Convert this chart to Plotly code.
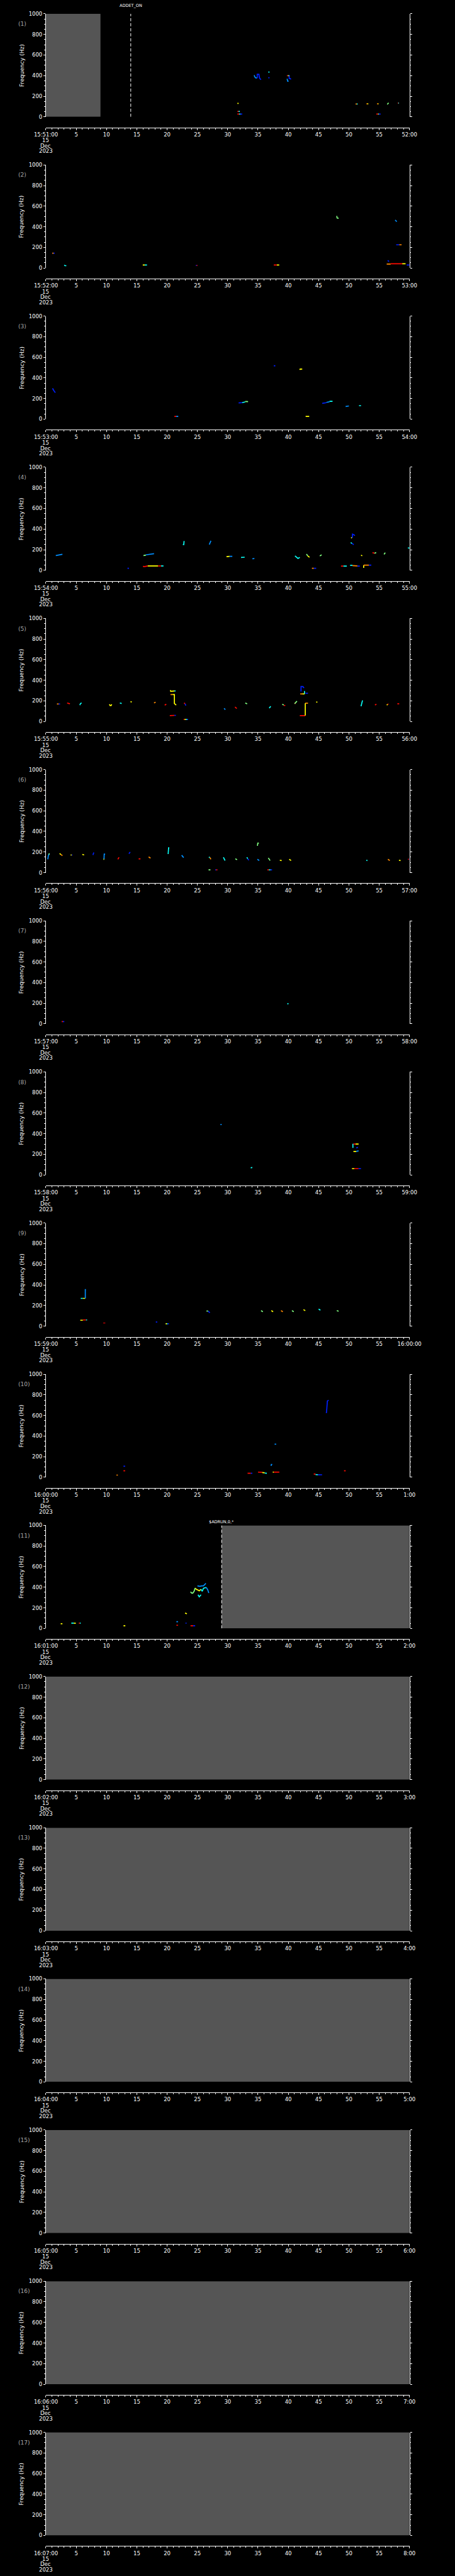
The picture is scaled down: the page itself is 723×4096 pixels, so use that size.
import plotly.graph_objects as go
from plotly.colors import sample_colorscale

# ---------------- data ----------------
N_PANELS = 17
START_LABELS = ["15:51:00", "15:52:00", "15:53:00", "15:54:00", "15:55:00", "15:56:00",
                "15:57:00", "15:58:00", "15:59:00", "16:00:00", "16:01:00", "16:02:00",
                "16:03:00", "16:04:00", "16:05:00", "16:06:00", "16:07:00"]
END_LABELS = ["52:00", "53:00", "54:00", "55:00", "56:00", "57:00", "58:00", "59:00",
              "16:00:00", "1:00", "2:00", "3:00", "4:00", "5:00", "6:00", "7:00", "8:00"]
MID_TICKS = [5, 10, 15, 20, 25, 30, 35, 40, 45, 50, 55]
DATE_LINES = ["15", "Dec", "2023"]
FREQ_TICKS = [0, 200, 400, 600, 800, 1000]

# gray (no data) spans, seconds within the panel minute
GRAY_SPANS = {1: (0, 9), 11: (29, 60), 12: (0, 60), 13: (0, 60), 14: (0, 60),
              15: (0, 60), 16: (0, 60), 17: (0, 60)}
# event markers: panel, second, label
EVENTS = [(1, 14.0, "ADDET_ON"), (11, 29.0, "$ADRUN,0,*")]

# intensity levels (jet colour index) per code
LEVEL = {"B": 0.14, "A": 0.25, "C": 0.37, "G": 0.5, "Y": 0.63, "O": 0.74, "R": 0.86, "D": 0.97}

# spectrogram traces: (seconds, frequencies Hz, intensity code)
P01 = [
    ([31.6, 31.8], [130, 130], "Y"), ([31.6, 31.8], [53, 53], "R"), ([31.8, 32.0], [53, 53], "C"),
    ([31.6, 31.9], [27, 27], "R"), ([31.9, 32.1], [27, 27], "C"), ([32.1, 32.4], [27, 27], "B"),
    ([34.37, 34.45, 34.6, 34.8], [404, 390, 379, 376], "A"),
    ([34.8, 34.87, 34.87, 35.15, 35.2, 35.3, 35.5], [379, 379, 413, 413, 389, 371, 361], "B"),
    ([36.7, 36.9], [434, 434], "C"), ([36.7, 36.9], [379, 379], "B"),
    ([39.77, 39.95], [399, 399], "R"), ([39.95, 40.15], [399, 399], "G"),
    ([39.8, 39.85, 39.9, 40.05], [369, 355, 346, 346], "A"),
    ([40.1, 40.15, 40.15, 40.3, 40.45], [399, 399, 372, 372, 364], "B"),
    ([51.1, 51.3], [124, 124], "O"), ([51.3, 51.45], [124, 124], "C"),
    ([52.9, 53.05], [126, 126], "O"), ([53.05, 53.2], [126, 126], "Y"),
    ([54.64, 54.8], [126, 126], "O"), ([54.8, 54.9], [126, 126], "Y"),
    ([54.53, 54.8], [27, 27], "R"), ([54.8, 54.95], [27, 27], "G"), ([54.95, 55.23], [27, 27], "B"),
    ([56.33, 56.45, 56.56], [121, 130, 136], "G"),
    ([58.05, 58.15], [134, 134], "R"), ([58.15, 58.25], [134, 134], "C"),
]
P02 = [
    ([1.05, 1.25], [144, 144], "O"), ([1.25, 1.44], [144, 144], "B"),
    ([3.03, 3.15, 3.37], [29, 22, 22], "C"),
    ([15.98, 16.3], [29, 29], "Y"), ([16.3, 16.68], [29, 29], "C"),
    ([24.75, 24.88], [24, 24], "B"), ([24.88, 25.0], [24, 24], "R"),
    ([37.6, 38.1], [29, 29], "R"), ([38.1, 38.5], [29, 29], "Y"),
    ([48.0, 48.05, 48.3], [505, 485, 482], "G"),
    ([57.64, 57.75, 57.9], [466, 458, 449], "A"),
    ([57.8, 58.3], [225, 225], "B"), ([58.3, 58.7], [225, 225], "O"),
    ([56.4, 56.63], [72, 64], "B"),
    ([56.24, 56.9], [38, 38], "O"), ([56.9, 58.8], [41, 41], "R"), ([58.8, 59.35], [41, 41], "Y"),
    ([59.54, 60.0], [29, 29], "B"),
]
P03 = [
    ([1.09, 1.15, 1.3, 1.55], [299, 290, 278, 257], "B"),
    ([21.2, 21.5], [27, 27], "R"), ([21.5, 21.84], [27, 27], "A"),
    ([31.8, 32.4], [158, 160], "B"), ([32.4, 32.9], [160, 168], "C"), ([32.9, 33.36], [172, 170], "G"),
    ([37.6, 37.86], [518, 518], "B"),
    ([41.9, 41.95, 42.3], [478, 486, 486], "Y"),
    ([42.86, 43.45], [27, 27], "Y"),
    ([45.6, 46.3], [153, 160], "B"), ([46.3, 46.8], [163, 168], "A"), ([46.8, 47.3], [173, 173], "C"),
    ([49.46, 50.0], [123, 128], "A"),
    ([51.67, 52.0], [131, 131], "C"),
]
P04 = [
    ([1.63, 2.0, 2.72], [143, 148, 155], "A"),
    ([13.46, 13.7], [20, 20], "B"),
    ([16.1, 16.5], [143, 148], "G"), ([16.5, 17.84], [150, 162], "A"),
    ([16.0, 16.3, 16.8], [38, 36, 42], "R"), ([16.8, 18.5], [43, 43], "Y"),
    ([18.5, 19.0], [43, 43], "R"), ([19.0, 19.4], [43, 43], "C"),
    ([22.6, 22.75, 22.8], [250, 250, 284], "C"),
    ([26.96, 27.1, 27.23], [250, 265, 287], "A"),
    ([29.8, 30.3], [133, 136], "Y"), ([30.3, 30.76], [136, 136], "A"),
    ([32.2, 32.8], [125, 127], "C"),
    ([34.06, 34.4], [112, 114], "A"),
    ([41.1, 41.4, 41.6, 41.9], [140, 128, 115, 125], "C"),
    ([43.0, 43.2], [158, 140], "G"), ([43.2, 43.5], [140, 126], "Y"),
    ([43.9, 44.2], [20, 20], "O"), ([44.2, 44.6], [20, 20], "B"),
    ([45.2, 45.5], [140, 150], "G"),
    ([48.7, 49.1], [41, 41], "R"), ([49.1, 49.65], [41, 41], "C"),
    ([50.2, 50.6], [48, 48], "C"), ([50.6, 51.4], [45, 43], "O"), ([51.4, 51.8], [41, 41], "B"),
    ([50.35, 50.5], [315, 315], "Y"),
    ([50.55, 50.6, 50.8, 51.0], [315, 351, 345, 337], "B"),
    ([50.3, 50.5], [269, 262], "C"), ([50.5, 50.8], [262, 248], "B"),
    ([52.44, 52.44], [24, 50], "Y"), ([52.44, 53.3], [50, 50], "O"), ([53.3, 53.7], [50, 50], "B"),
    ([52.0, 52.2], [148, 140], "Y"),
    ([53.9, 54.2], [172, 165], "R"), ([54.2, 54.5], [165, 172], "G"),
    ([55.8, 56.0], [155, 172], "G"),
    ([59.74, 60.0], [218, 215], "C"),
]
P05 = [
    ([1.82, 2.1], [170, 170], "O"), ([2.1, 2.33], [170, 170], "B"),
    ([3.5, 3.96], [180, 171], "R"),
    ([5.6, 5.7, 5.9], [158, 175, 180], "C"),
    ([10.47, 10.6, 10.75, 10.86], [167, 154, 154, 167], "Y"),
    ([12.2, 12.5], [180, 174], "C"),
    ([13.96, 14.16], [193, 188], "Y"),
    ([17.84, 18.1], [180, 188], "O"),
    ([19.6, 19.86], [158, 168], "R"),
    ([20.48, 20.55, 20.6, 20.9, 21.0, 21.2], [300, 300, 292, 292, 296, 296], "Y"),
    ([21.2, 21.4], [296, 296], "C"),
    ([20.56, 20.9], [261, 261], "O"),
    ([20.9, 21.2, 21.2, 21.5], [261, 261, 174, 159], "Y"),
    ([22.8, 22.95], [180, 172], "R"), ([22.95, 23.1], [172, 154], "B"),
    ([20.44, 21.2], [57, 59], "R"), ([21.2, 21.45], [59, 59], "B"),
    ([22.73, 22.9], [20, 20], "R"), ([22.9, 23.1], [20, 20], "Y"),
    ([23.1, 23.3], [20, 20], "C"), ([23.3, 23.47], [20, 20], "B"),
    ([29.4, 29.6], [128, 115], "A"),
    ([31.2, 31.5], [141, 126], "R"),
    ([32.9, 33.2], [180, 170], "G"),
    ([36.85, 37.1], [129, 147], "C"),
    ([39.0, 39.25], [167, 160], "G"), ([39.25, 39.5], [157, 154], "R"),
    ([41.04, 41.2, 41.43], [172, 180, 197], "G"), ([41.04, 41.2], [180, 172], "R"),
    ([42.0, 42.1, 42.1, 42.4, 42.6], [296, 296, 339, 339, 325], "B"),
    ([41.97, 42.3], [267, 267], "O"), ([42.3, 42.67], [267, 267], "Y"),
    ([42.67, 42.67], [267, 296], "C"),
    ([42.86, 43.25], [274, 274], "B"),
    ([42.8, 42.8], [57, 177], "Y"), ([42.8, 43.25], [177, 177], "O"),
    ([41.9, 42.8], [57, 57], "R"),
    ([44.6, 44.8], [188, 188], "Y"),
    ([52.0, 52.1, 52.25], [148, 175, 205], "C"),
    ([54.3, 54.54], [160, 168], "R"),
    ([56.24, 56.4], [160, 165], "Y"), ([56.4, 56.52], [165, 171], "R"),
    ([58.0, 58.3], [171, 171], "R"),
]
P06 = [
    ([0.31, 0.4, 0.58], [129, 165, 186], "A"), ([0.45, 0.58], [175, 186], "G"),
    ([2.25, 2.5], [186, 175], "Y"), ([2.5, 2.72], [175, 164], "O"),
    ([4.07, 4.25], [171, 171], "Y"), ([4.25, 4.38], [171, 171], "B"),
    ([6.0, 6.3], [177, 171], "Y"),
    ([7.76, 7.9], [171, 196], "B"),
    ([9.58, 9.62, 9.77], [129, 180, 180], "A"), ([9.5, 9.62], [129, 129], "Y"),
    ([11.87, 12.06], [129, 149], "R"),
    ([13.7, 13.9], [184, 200], "B"),
    ([15.3, 15.6], [134, 134], "R"),
    ([16.95, 17.26], [153, 141], "O"),
    ([20.17, 20.25, 20.36], [180, 241, 241], "C"),
    ([22.4, 22.73], [169, 146], "A"),
    ([26.88, 27.05], [151, 147], "C"), ([27.05, 27.23], [147, 129], "O"),
    ([26.84, 27.15], [27, 27], "G"),
    ([27.93, 28.1], [27, 27], "B"), ([28.1, 28.3], [27, 27], "R"),
    ([29.29, 29.56], [149, 117], "C"),
    ([31.26, 31.54], [134, 126], "G"),
    ([33.16, 33.3], [149, 135], "C"), ([33.3, 33.48], [135, 120], "B"),
    ([34.9, 35.2], [130, 117], "A"),
    ([34.9, 34.97, 35.14], [260, 286, 286], "G"),
    ([36.7, 37.0], [143, 117], "G"),
    ([36.54, 36.8], [27, 27], "R"), ([36.8, 37.05], [27, 27], "C"), ([37.05, 37.32], [27, 27], "B"),
    ([38.6, 38.9], [121, 117], "Y"),
    ([40.15, 40.46], [130, 117], "Y"),
    ([52.87, 53.06], [121, 117], "C"),
    ([56.44, 56.75], [130, 117], "O"),
    ([58.26, 58.53], [121, 117], "Y"),
    ([59.74, 59.9], [130, 130], "R"), ([59.9, 60.0], [130, 130], "B"),
]
P07 = [
    ([2.6, 2.8], [22, 22], "R"), ([2.8, 3.03], [22, 22], "B"),
    ([39.84, 40.03], [192, 198], "C"),
]
P08 = [
    ([28.8, 29.0], [489, 489], "A"),
    ([33.8, 34.06], [70, 72], "C"),
    ([50.5, 50.9], [61, 61], "Y"), ([50.9, 51.6], [61, 61], "R"), ([51.6, 52.0], [61, 61], "B"),
    ([50.66, 50.66, 50.75], [262, 297, 300], "C"),
    ([50.75, 51.1], [300, 300], "R"), ([51.1, 51.6], [300, 300], "Y"),
    ([51.2, 51.5], [262, 268], "B"),
    ([50.75, 51.2], [228, 228], "Y"), ([51.2, 51.6], [228, 234], "A"),
]
P09 = [
    ([5.74, 6.1], [269, 269], "C"), ([6.1, 6.48], [269, 269], "Y"),
    ([6.5, 6.5, 6.6], [269, 354, 354], "A"),
    ([5.67, 6.1], [57, 57], "Y"), ([6.1, 6.6], [60, 60], "R"), ([6.6, 6.79], [60, 60], "C"),
    ([9.45, 9.8], [31, 31], "D"),
    ([18.14, 18.37], [40, 40], "B"),
    ([19.75, 19.95], [23, 23], "Y"), ([19.95, 20.1], [23, 23], "C"), ([20.1, 20.3], [23, 23], "B"),
    ([26.5, 26.75], [146, 146], "G"), ([26.75, 27.05], [146, 129], "B"),
    ([35.5, 35.8], [150, 140], "G"), ([37.2, 37.5], [150, 140], "Y"),
    ([38.8, 39.1], [150, 140], "O"), ([40.6, 40.9], [150, 140], "G"),
    ([42.5, 42.8], [160, 150], "Y"), ([45.0, 45.3], [165, 155], "C"),
    ([48.0, 48.3], [150, 145], "G"),
]
P10 = [
    ([46.28, 46.3, 46.35, 46.45, 46.66], [622, 650, 660, 740, 748], "B"),
    ([37.74, 38.0], [321, 321], "A"),
    ([37.16, 37.2, 37.35], [110, 124, 124], "A"),
    ([12.8, 13.07], [107, 107], "B"),
    ([12.8, 13.07], [63, 63], "R"),
    ([11.64, 11.87], [21, 21], "O"),
    ([33.28, 33.8], [39, 39], "R"), ([33.8, 34.06], [39, 39], "B"),
    ([35.0, 35.7], [50, 48], "R"), ([35.7, 36.1], [46, 43], "Y"), ([36.1, 36.46], [41, 39], "C"),
    ([37.43, 37.6], [50, 50], "Y"), ([37.6, 38.52], [50, 50], "R"),
    ([44.2, 44.5], [32, 30], "R"), ([44.5, 44.9], [26, 24], "C"), ([44.9, 45.58], [24, 24], "B"),
    ([49.2, 49.46], [63, 63], "R"),
]
P11 = [
    ([2.44, 2.72], [45, 45], "Y"),
    ([4.19, 4.6], [52, 52], "C"), ([4.6, 4.93], [52, 50], "Y"),
    ([5.43, 5.6], [52, 52], "R"), ([5.6, 5.74], [52, 52], "C"),
    ([12.8, 13.1], [26, 26], "Y"),
    ([21.53, 21.8], [65, 65], "A"), ([21.53, 21.8], [31, 31], "R"),
    ([22.96, 23.1, 23.27], [149, 145, 142], "Y"),
    ([23.04, 23.2], [52, 52], "B"),
    ([23.86, 24.3], [26, 26], "R"), ([24.3, 24.63], [26, 26], "B"),
    ([25.0, 25.4, 25.7, 26.0, 26.2, 26.4], [413, 408, 413, 413, 425, 437], "A"),
    ([23.86, 24.05, 24.24, 24.45, 24.63], [356, 343, 343, 360, 392], "G"),
    ([24.63, 24.8, 25.0, 25.3, 25.6], [392, 380, 375, 365, 380], "Y"),
    ([25.6, 25.8, 26.0, 26.45], [380, 360, 390, 398], "C"),
    ([26.45, 26.7, 26.88], [398, 375, 343], "A"),
    ([25.1, 25.3, 25.6], [327, 307, 327], "C"),
]
SPECTRA = {1: P01, 2: P02, 3: P03, 4: P04, 5: P05, 6: P06, 7: P07, 8: P08,
           9: P09, 10: P10, 11: P11}

# ---------------- style / layout ----------------
JET = [[0.0, "#00008f"], [0.11, "#0000ff"], [0.36, "#00ffff"], [0.5, "#80ff80"],
       [0.63, "#ffff00"], [0.87, "#ff0000"], [1.0, "#800000"]]
REF_W, REF_H = 1024.0, 5802.0
STEP = REF_H / N_PANELS
PLOT_TOP, PLOT_BOT, XLINE = 24.0, 256.7, 280.7
X_LEFT, X_RIGHT = 80.7, 944.3
FONT = "DejaVu Sans"
GRAY = "#555555"


def py(v):  # reference pixel row -> paper y
    return 1 - v / REF_H


def px(v):
    return v / REF_W


fig = go.Figure()
annotations = []
shapes = []
layout_axes = {}

for k in range(1, N_PANELS + 1):
    off = (k - 1) * STEP
    xn = "x" if k == 1 else f"x{k}"
    yn = "y" if k == 1 else f"y{k}"
    xk = "xaxis" if k == 1 else f"xaxis{k}"
    yk = "yaxis" if k == 1 else f"yaxis{k}"

    # anchor trace
    fig.add_trace(go.Scatter(x=[None], y=[None], xaxis=xn, yaxis=yn, mode="lines",
                             showlegend=False, hoverinfo="skip"))
    if k in GRAY_SPANS:
        t0, t1 = GRAY_SPANS[k]
        fig.add_trace(go.Scatter(x=[t0, t1, t1, t0, t0], y=[0, 0, 1000, 1000, 0],
                                 fill="toself", fillcolor=GRAY, mode="lines",
                                 line=dict(width=0, color=GRAY), xaxis=xn, yaxis=yn,
                                 showlegend=False, hoverinfo="skip"))
    if k in SPECTRA:
        groups = {}
        for ts, fs, code in SPECTRA[k]:
            gx, gy = groups.setdefault(code, ([], []))
            gx.extend(list(ts) + [None])
            gy.extend(list(fs) + [None])
        for code, (gx, gy) in groups.items():
            col = sample_colorscale(JET, [LEVEL[code]])[0]
            fig.add_trace(go.Scatter(x=gx, y=gy, mode="lines", connectgaps=False,
                                     line=dict(color=col, width=1.7), xaxis=xn, yaxis=yn,
                                     showlegend=False, hoverinfo="skip"))

    tickvals = [0] + MID_TICKS + [60]
    ticktext = [START_LABELS[k - 1]] + [str(v) for v in MID_TICKS] + [END_LABELS[k - 1]]
    layout_axes[xk] = dict(
        domain=[px(X_LEFT), px(X_RIGHT)], anchor="free", position=py(XLINE + off),
        range=[0, 60], tickmode="array", tickvals=tickvals, ticktext=ticktext,
        ticks="outside", ticklen=3, tickwidth=1, tickcolor="white",
        minor=dict(tickmode="linear", tick0=0, dtick=1, ticks="outside", ticklen=2,
                   tickwidth=1, tickcolor="white"),
        showline=True, linecolor="white", linewidth=1, showgrid=False, zeroline=False,
        tickangle=0, tickfont=dict(family=FONT, size=8.5, color="white"), fixedrange=True)
    layout_axes[yk] = dict(
        domain=[py(PLOT_BOT + off), py(PLOT_TOP + off)], anchor=xn,
        range=[0, 1000], tickmode="array", tickvals=FREQ_TICKS,
        ticks="outside", ticklen=3, tickwidth=1, tickcolor="white",
        minor=dict(tickmode="linear", tick0=0, dtick=50, ticks="outside", ticklen=1.5,
                   tickwidth=1, tickcolor="white"),
        showline=True, mirror="ticks", linecolor="white", linewidth=1,
        showgrid=False, zeroline=False,
        tickfont=dict(family=FONT, size=8.5, color="white"), fixedrange=True)

    annotations.append(dict(text=f"({k})", x=px(11.5), y=py(47 + off), xref="paper",
                            yref="paper", xanchor="left", yanchor="middle", showarrow=False,
                            font=dict(family=FONT, size=9, color="#a8a8a8")))
    annotations.append(dict(text="Frequency (Hz)", textangle=-90, x=px(23),
                            y=py((PLOT_TOP + PLOT_BOT) / 2 + off), xref="paper", yref="paper",
                            xanchor="center", yanchor="middle", showarrow=False,
                            font=dict(family=FONT, size=9, color="white")))
    for i, line in enumerate(DATE_LINES):
        annotations.append(dict(text=line, x=px(X_LEFT), y=py(310 + 12.1 * i + off),
                                xref="paper", yref="paper", xanchor="center",
                                yanchor="middle", showarrow=False,
                                font=dict(family=FONT, size=8.5, color="white")))

for panel, sec, label in EVENTS:
    xn = "x" if panel == 1 else f"x{panel}"
    yn = "y" if panel == 1 else f"y{panel}"
    shapes.append(dict(type="line", xref=xn, yref=yn, x0=sec, x1=sec, y0=0, y1=1000,
                       line=dict(color="white", width=1, dash="5px,3px"), layer="above"))
    label_row = 6 if panel == 1 else PLOT_TOP + (panel - 1) * STEP - 8.4
    annotations.append(dict(text=label, x=sec, xref=xn, y=py(label_row), yref="paper",
                            xanchor="center", yanchor="middle", showarrow=False,
                            font=dict(family=FONT, size=6.5, color="white")))

fig.update_layout(
    width=723, height=4096, margin=dict(l=0, r=0, t=0, b=0),
    paper_bgcolor="black", plot_bgcolor="black", showlegend=False,
    annotations=annotations, shapes=shapes, **layout_axes)

fig.write_html("out.html", config={"displayModeBar": False, "staticPlot": True},
               post_script="document.body.style.margin='0';document.body.style.background='black';")
